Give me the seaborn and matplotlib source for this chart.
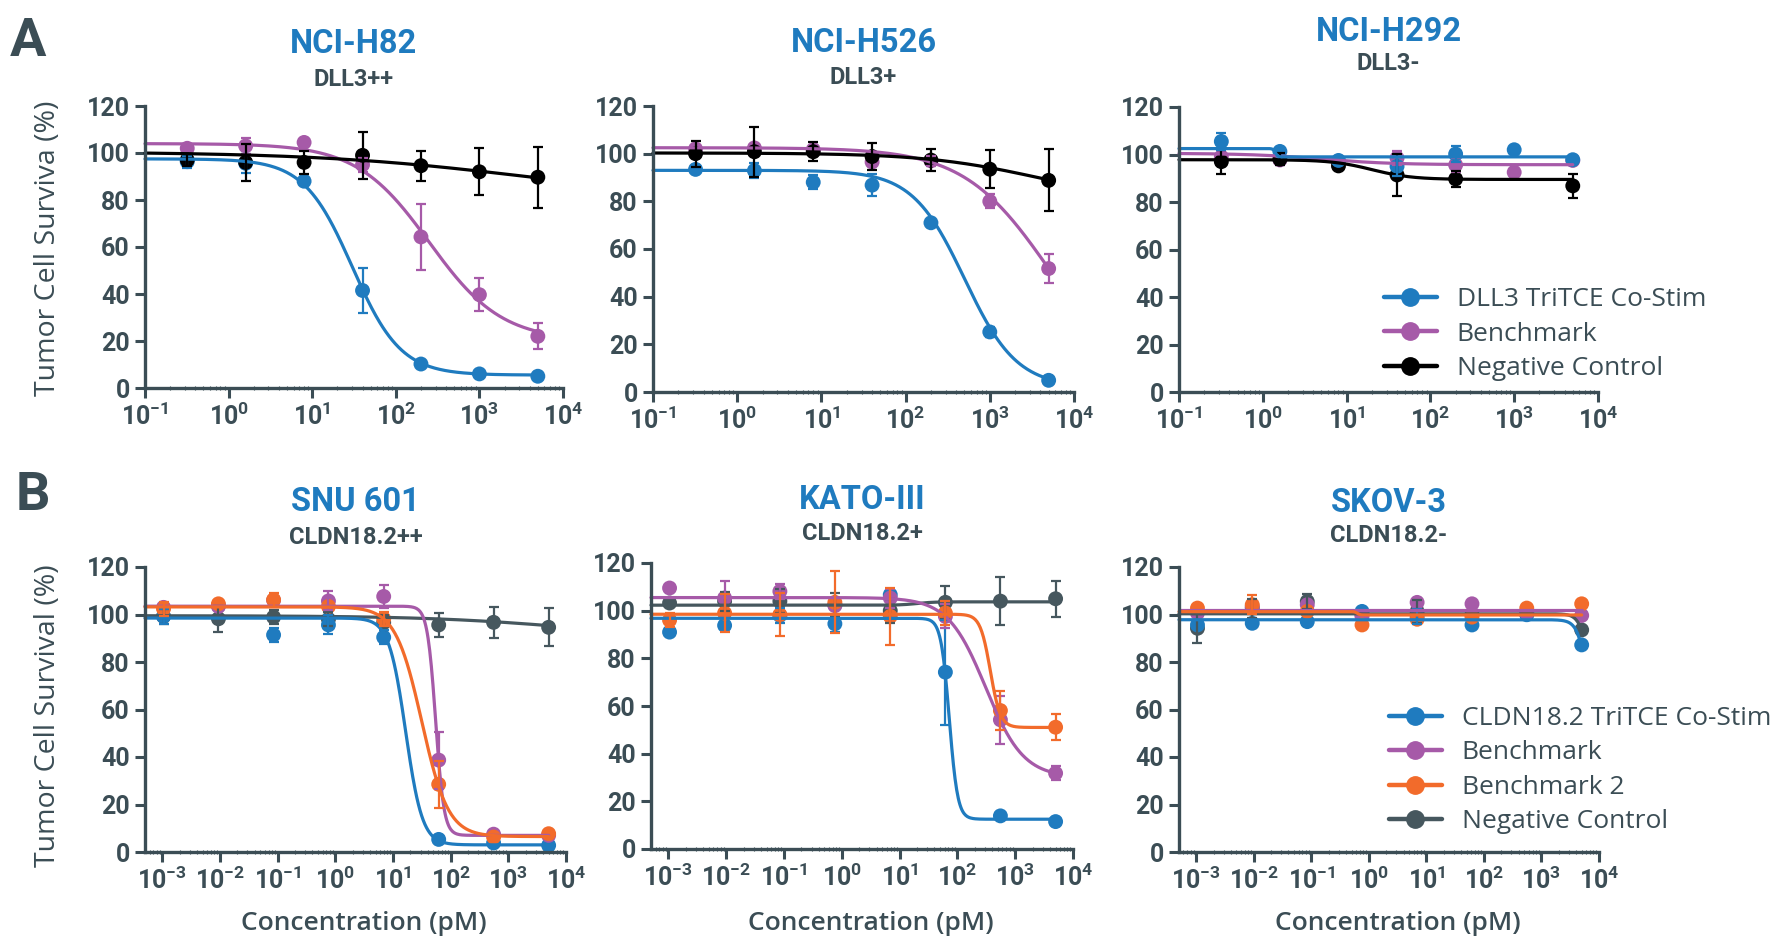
import numpy as np
import pandas as pd
import seaborn as sns
import matplotlib.pyplot as plt
from matplotlib.lines import Line2D
from matplotlib.ticker import FixedLocator, FuncFormatter, LogLocator, NullFormatter

# concentrations (pM)
conc_dll3 = [0.32, 1.6, 8, 40, 200, 1000, 5000]
conc_cldn = [0.00105, 0.0094, 0.085, 0.76, 6.9, 62, 555, 5000]

# fit params are (top, bottom, logEC50, hill)
# --- A: NCI-H82 (DLL3++)
h82_tritce = [96.3, 95.6, 88, 41.5, 10.2, 6, 5]
h82_tritce_sd = [2.5, 4, 0, 9.7, 0, 0, 0]
h82_tritce_fit = (97.5, 5.5, 1.48, 1.5)
h82_bench = [102, 103, 104.5, 95, 64.3, 39.7, 22]
h82_bench_sd = [0, 3.5, 0, 3, 14, 7, 5.5]
h82_bench_fit = (104, 20, 2.4, 1.0)
h82_neg = [97, 96, 96, 99, 94.6, 92, 89.7]
h82_neg_sd = [2.5, 8, 5, 10, 6.4, 10, 13]
h82_neg_fit = (100.5, 80, 3.5, 0.35)

# --- A: NCI-H526 (DLL3+)
h526_tritce = [93.4, 92.9, 88, 86.8, 71, 25.2, 4.9]
h526_tritce_sd = [1, 3, 3, 4.5, 0, 2, 0]
h526_tritce_fit = (93, 2, 2.7, 1.4)
h526_bench = [102, 102.4, 101.7, 96.5, 97, 80, 51.8]
h526_bench_sd = [0, 0, 0, 0, 2, 3, 6]
h526_bench_fit = (102.5, 0, 3.71, 0.85)
h526_neg = [100, 100.8, 100.8, 98.8, 97.3, 93.5, 88.8]
h526_neg_sd = [5.5, 10.5, 4, 5.5, 4.5, 8, 13]
h526_neg_fit = (100.3, 80, 3.55, 0.65)

# --- A: NCI-H292 (DLL3-)
h292_tritce = [105.5, 101.3, 97.5, 95, 100.2, 102, 97.8]
h292_tritce_sd = [3.5, 0, 0, 4, 3.5, 0, 0]
h292_tritce_fit = (102.5, 99, 0.15, 30)
h292_bench = [99, 97.7, 97, 98.5, 95.6, 92.5, 97.5]
h292_bench_sd = [0, 0, 0, 3, 3, 0, 0]
h292_bench_fit = (100.5, 95.7, 0.7, 1.0)
h292_neg = [97, 98, 95.2, 91.4, 89.7, np.nan, 86.8]
h292_neg_sd = [5, 2.5, 0, 9, 3.5, 0, 5]
h292_neg_fit = (97.8, 89.5, 1.3, 1.8)

# --- B: SNU 601 (CLDN18.2++)
snu_tritce = [99.2, 103.7, 91.4, 95.6, 90.4, 5.3, 3.8, 2.8]
snu_tritce_sd = [3, 0, 3, 4, 3, 0, 0, 0]
snu_tritce_fit = (98.5, 3, 1.22, 3)
snu_bench = [103, 103.4, 106, 105.7, 107.6, 38.7, 7.5, 7]
snu_bench_sd = [0, 0, 0, 4, 5, 12, 0, 0]
snu_bench_fit = (103.5, 7, 1.74, 6)
snu_bench2 = [102.4, 104.5, 106.2, 103.4, 98.2, 28.5, 6.3, 7.7]
snu_bench2_sd = [3, 0, 3, 0, 3, 10, 0, 0]
snu_bench2_fit = (103.2, 6.5, 1.5, 1.9)
snu_neg = [99.2, 98.2, 98.9, 98, 96.6, 95.6, 96.7, 94.6]
snu_neg_sd = [3, 5.5, 3, 3, 3, 5, 6.5, 8]
snu_neg_fit = (99.5, 90, 4, 0.35)

# --- B: KATO-III (CLDN18.2+)
kato_tritce = [91, 93.8, 98, 94.5, 106.7, 74.2, 13.9, 11.5]
kato_tritce_sd = [0, 0, 3, 3.5, 0, 22, 0, 0]
kato_tritce_fit = (96.8, 12.5, 1.86, 6)
kato_bench = [109.5, 105.3, 108.1, 102.1, 105.3, 97.6, 54.2, 31.8]
kato_bench_sd = [0, 7, 3, 0, 4, 5, 10, 3]
kato_bench_fit = (105.5, 30, 2.49, 1.33)
kato_bench2 = [96, 99, 98.3, 103.5, 97.6, 99, 58.1, 51.1]
kato_bench2_sd = [3, 8, 9, 13, 12, 5, 8, 5.5]
kato_bench2_fit = (98.5, 51, 2.57, 5)
kato_neg = [103.2, 104, 104, 102.5, 100, 103.5, 104, 105]
kato_neg_sd = [0, 4, 5, 5, 5, 7, 10, 7.5]
kato_neg_fit = (102.3, 103.7, 1.3, 3)

# --- B: SKOV-3 (CLDN18.2-)
skov_tritce = [95.6, 96.3, 97, 101.3, 99.2, 95.6, 99.9, 87.2]
skov_tritce_sd = [0, 0, 0, 0, 3, 0, 0, 0]
skov_tritce_fit = (97.8, 0, 3.88, 4.75)
skov_bench = [100.6, 103.4, 104.1, 99.2, 105.1, 104.5, 100.6, 99.6]
skov_bench_sd = [0, 0, 0, 0, 0, 0, 0, 0]
skov_bench_fit = (102, 102, 0, 1)
skov_bench2 = [102.7, 104.1, 101.3, 95.6, 98, 98.9, 102.7, 104.5]
skov_bench2_sd = [0, 4, 0, 0, 0, 0, 0, 0]
skov_bench2_fit = (101.2, 99.8, -0.2, 20)
skov_neg = [94.2, 102.7, 105.5, 100, 101.3, 100, 100.2, 93.5]
skov_neg_sd = [6, 4, 3, 0, 5, 0, 0, 0]
skov_neg_fit = (100.3, 0, 3.92, 5)

BLUE = '#1f7bbf'
PURPLE = '#a65aa8'
BLACK = '#000000'
ORANGE = '#f26b2b'
GREY = '#46575e'
TXT = '#3b4d55'

W, H = 1774, 936

sns.set_theme(style='ticks')
plt.rcParams['font.family'] = ['Roboto', 'DejaVu Sans']
plt.rcParams['mathtext.fontset'] = 'custom'
plt.rcParams['mathtext.rm'] = 'Roboto'
plt.rcParams['mathtext.bf'] = 'Roboto:bold'


def px(x, y):
    return x / W, 1 - y / H


def four_pl(x, top, bottom, logec, hill):
    return bottom + (top - bottom) / (1 + 10 ** ((np.log10(x) - logec) * hill))


def draw_series(ax, conc, y, sd, fit, color, xmin):
    df = pd.DataFrame({'conc': conc, 'surv': y, 'sd': sd}).dropna()
    xs = np.logspace(np.log10(xmin), np.log10(conc[-1]), 500)
    curve = pd.DataFrame({'conc': xs, 'surv': four_pl(xs, *fit)})
    sns.lineplot(data=curve, x='conc', y='surv', color=color, lw=2.3,
                 ax=ax, legend=False, clip_on=False)
    bars = df[df.sd > 0]
    ax.errorbar(bars.conc, bars.surv, yerr=bars.sd, fmt='none', ecolor=color,
                elinewidth=1.6, capsize=3.8, capthick=1.6, clip_on=False)
    sns.scatterplot(data=df, x='conc', y='surv', color=color, s=115,
                    edgecolor='none', ax=ax, legend=False, clip_on=False)


panels = [
    dict(box=(145, 106, 563, 388), title='NCI-H82', sub='DLL3++', ty=(44, 79),
         conc=conc_dll3, xmin=0.1, ticks=range(-1, 5),
         series=[(h82_tritce, h82_tritce_sd, h82_tritce_fit, BLUE),
                 (h82_bench, h82_bench_sd, h82_bench_fit, PURPLE),
                 (h82_neg, h82_neg_sd, h82_neg_fit, BLACK)]),
    dict(box=(653, 106, 1074, 392), title='NCI-H526', sub='DLL3+', ty=(43, 78),
         conc=conc_dll3, xmin=0.1, ticks=range(-1, 5),
         series=[(h526_tritce, h526_tritce_sd, h526_tritce_fit, BLUE),
                 (h526_bench, h526_bench_sd, h526_bench_fit, PURPLE),
                 (h526_neg, h526_neg_sd, h526_neg_fit, BLACK)]),
    dict(box=(1179, 107, 1598, 392), title='NCI-H292', sub='DLL3-', ty=(32, 63),
         conc=conc_dll3, xmin=0.1, ticks=range(-1, 5),
         series=[(h292_bench, h292_bench_sd, h292_bench_fit, PURPLE),
                 (h292_neg, h292_neg_sd, h292_neg_fit, BLACK),
                 (h292_tritce, h292_tritce_sd, h292_tritce_fit, BLUE)]),
    dict(box=(145, 567, 566, 852), title='SNU 601', sub='CLDN18.2++', ty=(502, 537),
         conc=conc_cldn, xmin=10 ** -3.3, ticks=range(-3, 5),
         series=[(snu_neg, snu_neg_sd, snu_neg_fit, GREY),
                 (snu_tritce, snu_tritce_sd, snu_tritce_fit, BLUE),
                 (snu_bench, snu_bench_sd, snu_bench_fit, PURPLE),
                 (snu_bench2, snu_bench2_sd, snu_bench2_fit, ORANGE)]),
    dict(box=(651, 563, 1073, 849), title='KATO-III', sub='CLDN18.2+', ty=(500, 533),
         conc=conc_cldn, xmin=10 ** -3.3, ticks=range(-3, 5),
         series=[(kato_neg, kato_neg_sd, kato_neg_fit, GREY),
                 (kato_tritce, kato_tritce_sd, kato_tritce_fit, BLUE),
                 (kato_bench, kato_bench_sd, kato_bench_fit, PURPLE),
                 (kato_bench2, kato_bench2_sd, kato_bench2_fit, ORANGE)]),
    dict(box=(1179, 567, 1599, 852), title='SKOV-3', sub='CLDN18.2-', ty=(503, 536),
         conc=conc_cldn, xmin=10 ** -3.3, ticks=range(-3, 5),
         series=[(skov_neg, skov_neg_sd, skov_neg_fit, GREY),
                 (skov_tritce, skov_tritce_sd, skov_tritce_fit, BLUE),
                 (skov_bench, skov_bench_sd, skov_bench_fit, PURPLE),
                 (skov_bench2, skov_bench2_sd, skov_bench2_fit, ORANGE)]),
]

fig = plt.figure(figsize=(W / 100, H / 100), dpi=100)
fig.patch.set_facecolor('white')

decade_fmt = FuncFormatter(lambda v, pos: r'$\mathbf{10^{%d}}$' % int(round(np.log10(v))))

for i, p in enumerate(panels):
    x0, y0, x1, y1 = p['box']
    ax = fig.add_axes([x0 / W, 1 - y1 / H, (x1 - x0) / W, (y1 - y0) / H])
    ax.set_xscale('log')
    for y, sd, fit, color in p['series']:
        draw_series(ax, p['conc'], y, sd, fit, color, p['xmin'])
    ax.set_xlim(p['xmin'], 1e4)
    ax.set_ylim(0, 120)
    ax.set_xlabel('')
    ax.set_ylabel('')
    ax.set_facecolor('none')
    ax.xaxis.set_major_locator(FixedLocator([10.0 ** k for k in p['ticks']]))
    ax.xaxis.set_major_formatter(decade_fmt)
    ax.xaxis.set_minor_locator(LogLocator(base=10, subs=np.arange(2, 10) * 0.1, numticks=20))
    ax.xaxis.set_minor_formatter(NullFormatter())
    ax.set_yticks(range(0, 121, 20))
    sns.despine(ax=ax)
    for s in ('left', 'bottom'):
        ax.spines[s].set_linewidth(2.4)
        ax.spines[s].set_color(TXT)
    ax.tick_params(which='major', length=7, width=2.2, color=TXT, labelcolor=TXT,
                   labelsize=18, pad=4)
    ax.tick_params(axis='x', which='minor', length=2.5, width=0.8, color=TXT,
                   direction='inout')
    for lab in ax.get_yticklabels():
        lab.set_fontweight('bold')

    cx = (x0 + x1) / 2
    fig.text(*px(cx, p['ty'][0]), p['title'], color=BLUE, fontsize=23.5,
             fontweight='bold', ha='center', va='center')
    fig.text(*px(cx, p['ty'][1]), p['sub'], color=TXT, fontsize=17,
             fontweight='bold', ha='center', va='center')

    if i >= 3:
        lo = np.log10(p['xmin'])
        # centre of the labelled decades
        xc = x0 + (x1 - x0) * ((-3 + 4) / 2 - lo) / (4 - lo)
        fig.text(*px(xc, 923), 'Concentration (pM)', color=TXT, fontsize=19,
                 fontweight='semibold', family=['Open Sans', 'DejaVu Sans'],
                 ha='center', va='center')

# panel letters and y labels
fig.text(*px(28, 41), 'A', color=TXT, fontsize=39, fontweight='bold', ha='center', va='center')
fig.text(*px(33, 496), 'B', color=TXT, fontsize=39, fontweight='bold', ha='center', va='center')
fig.text(*px(48, 248), 'Tumor Cell Surviva (%)', color=TXT, fontsize=20.5, rotation=90,
         family=['Open Sans', 'DejaVu Sans'], ha='center', va='center')
fig.text(*px(48, 716), 'Tumor Cell Survival (%)', color=TXT, fontsize=20.5, rotation=90,
         family=['Open Sans', 'DejaVu Sans'], ha='center', va='center')


def handles(colors):
    return [Line2D([], [], color=c, lw=3.2, marker='o', markersize=12.5) for c in colors]


leg_kw = dict(frameon=False, loc='center left', borderpad=0, borderaxespad=0,
              handlelength=2.0, handletextpad=0.75, labelspacing=0.36,
              prop={'family': ['Open Sans', 'DejaVu Sans'], 'size': 19},
              labelcolor=TXT)
fig.legend(handles([BLUE, PURPLE, BLACK]),
           ['DLL3 TriTCE Co-Stim', 'Benchmark', 'Negative Control'],
           bbox_to_anchor=px(1384, 334), **leg_kw)
fig.legend(handles([BLUE, PURPLE, ORANGE, GREY]),
           ['CLDN18.2 TriTCE Co-Stim', 'Benchmark', 'Benchmark 2', 'Negative Control'],
           bbox_to_anchor=px(1389, 770), **leg_kw)

fig.savefig('out.png', dpi=100, facecolor='white')
